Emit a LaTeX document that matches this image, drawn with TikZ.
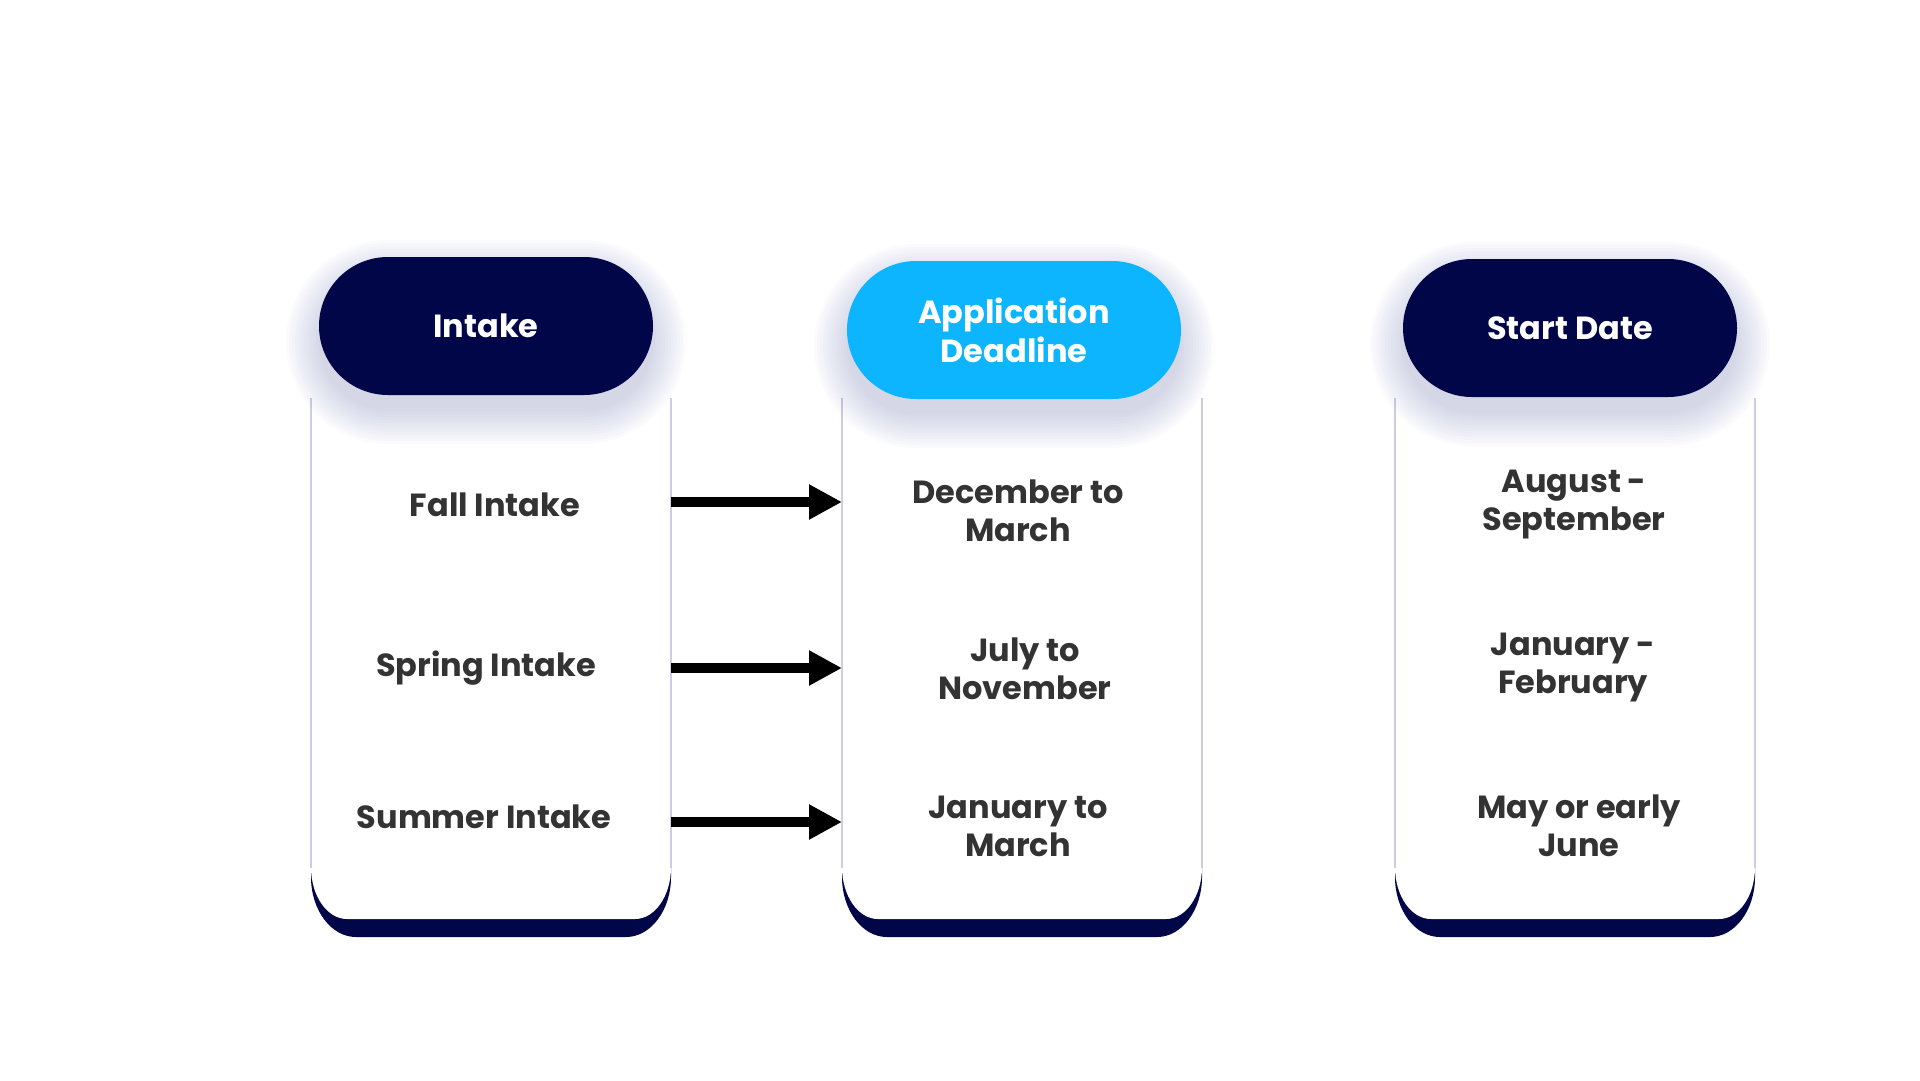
\documentclass[tikz,border=0pt]{standalone}
\usepackage{fontspec}
\setmainfont{Poppins}
\usetikzlibrary{arrows.meta}
\usetikzlibrary{shapes.misc}
\definecolor{navy1}{RGB}{1, 6, 72}
\definecolor{cyan1}{RGB}{13, 181, 254}
\definecolor{gray1}{RGB}{51, 51, 51}
\definecolor{lav1}{RGB}{204, 204, 228}
\definecolor{glow1}{RGB}{40, 50, 150}
\tikzset{
  pill/.style={rounded rectangle, minimum width=334pt, minimum height=138pt, inner sep=0pt,
    text=white, align=center, font=\fontsize{32}{39}\selectfont\bfseries},
  cell/.style={text=gray1, align=center, font=\fontsize{32}{38}\selectfont\bfseries},
  side/.style={lav1, line width=1.3pt},
  arrowline/.style={line width=10pt, -{Triangle[length=33pt,width=33pt]}}
}
\begin{document}
\begin{tikzpicture}[x=1pt, y=1pt]
  \useasboundingbox[fill=white] (0,0) rectangle (1920,-1080);
  % columns
  \foreach \l in {311,842,1395} {
    \fill[navy1] (\l,-850) -- (\l,-877) arc[start angle=180, end angle=270, x radius=45pt, y radius=60pt]
      -- (\l+315,-937) arc[start angle=270, end angle=360, x radius=45pt, y radius=60pt] -- (\l+360,-850) -- cycle;
    \fill[white] (\l,-398) -- (\l,-867) arc[start angle=180, end angle=270, x radius=36pt, y radius=52pt]
      -- (\l+324,-919) arc[start angle=270, end angle=360, x radius=36pt, y radius=52pt] -- (\l+360,-398) -- cycle;
    \draw[side] (\l,-398) -- (\l,-868);
    \draw[side] (\l+360,-398) -- (\l+360,-868);
  }
  % glow round the headers
  \foreach \cx/\cy in {486/326, 1014/330, 1570/328}
    \foreach \r in {1,...,12}
      \fill[glow1, opacity=0.016, rounded corners={66pt+3pt*\r}]
        (\cx-164-3*\r, -\cy-82-3*\r) rectangle (\cx+164+3*\r, -\cy+50+3*\r);
  \node[pill, fill=navy1] (intake) at (486,-326) {Intake};
  \node[pill, fill=cyan1] (deadline) at (1014,-330) {Application\\Deadline};
  \node[pill, fill=navy1] (start) at (1570,-328) {Start Date};
  \node[cell] (fall) at (495,-505) {Fall Intake};
  \node[cell] (spring) at (486,-668) {Spring Intake};
  \node[cell] (summer) at (484,-817) {Summer Intake};
  \node[cell] (dec) at (1018,-511) {December to\\March};
  \node[cell] (jul) at (1025,-669) {July to\\November};
  \node[cell] (jan) at (1018,-826) {January to\\March};
  \node[cell] (aug) at (1574,-505) {August -\\September};
  \node[cell] (feb) at (1573,-667) {January -\\February};
  \node[cell] (may) at (1579,-826) {May or early\\June};
  \foreach \y [count=\i] in {502,668,822} {
    \coordinate (from\i) at (671,-\y);
    \coordinate (to\i) at (842,-\y);
    \draw[arrowline] (from\i) -- (to\i);
  }
\end{tikzpicture}
\end{document}
